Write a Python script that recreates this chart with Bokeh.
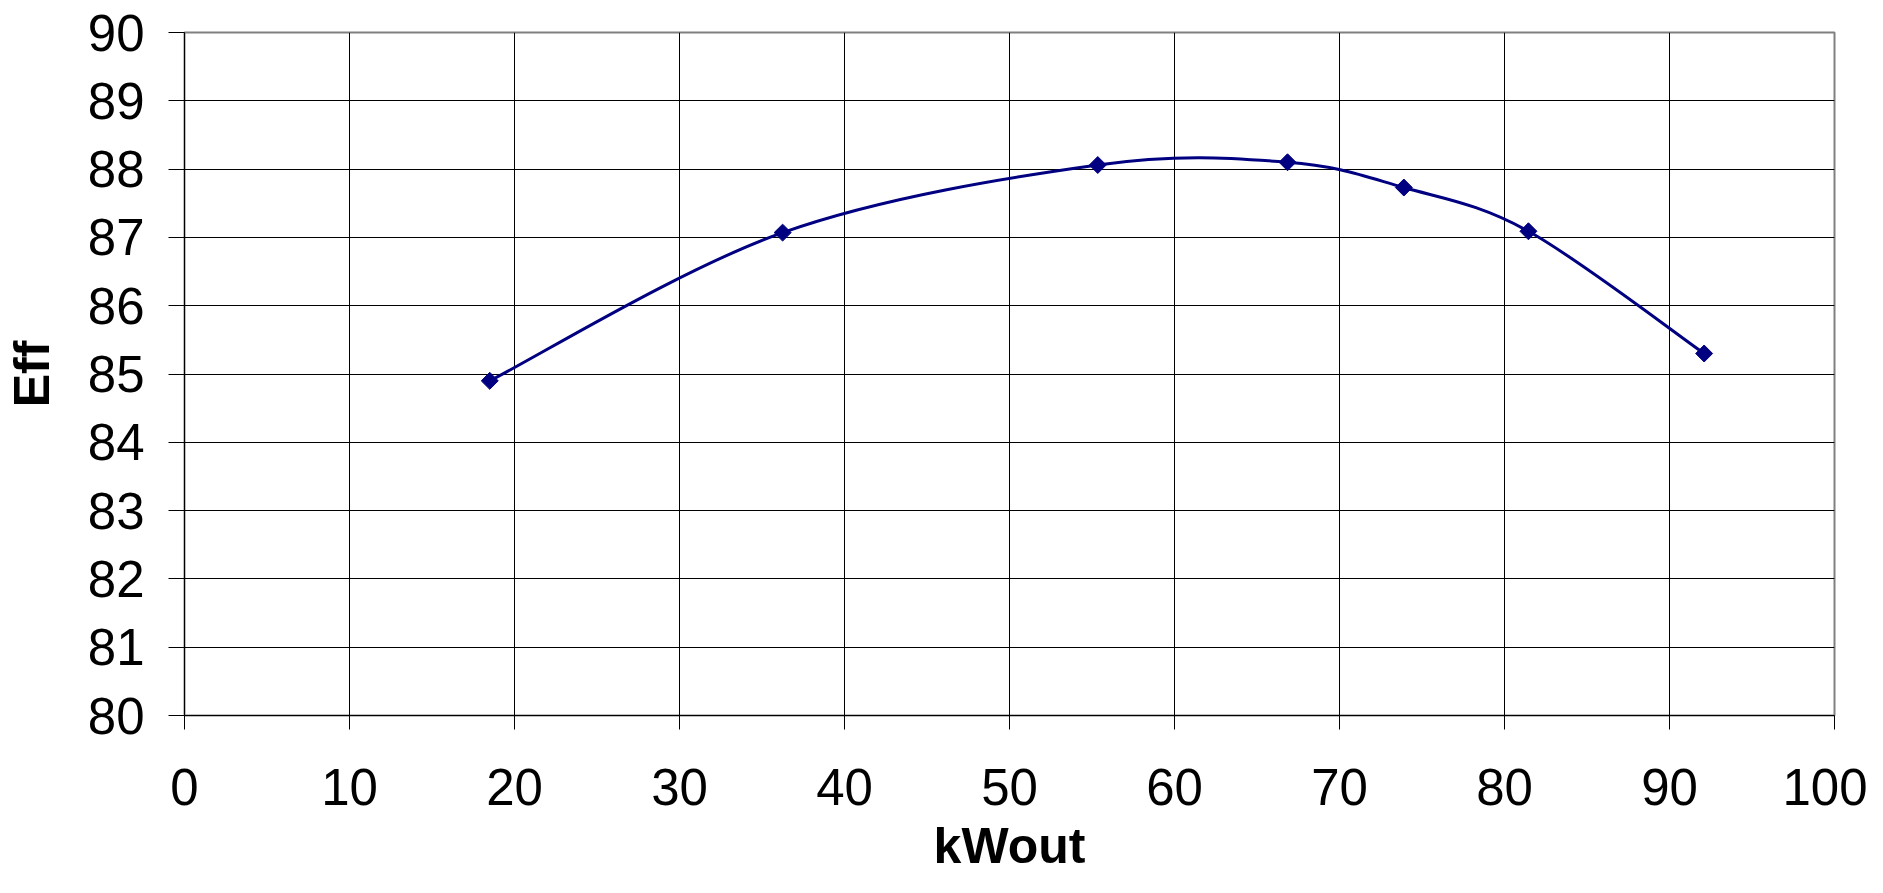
import math
from bokeh.plotting import figure
from bokeh.models import Range1d, FixedTicker, ColumnDataSource
from bokeh.embed import file_html
from bokeh.resources import INLINE

# ---- data ----
kw_out = [18.5, 36.25, 55.35, 66.85, 73.9, 81.45, 92.1]
eff = [84.9, 87.07, 88.06, 88.10, 87.73, 87.09, 85.30]
x_ticks = [0, 10, 20, 30, 40, 50, 60, 70, 80, 90, 100]
y_ticks = [80, 81, 82, 83, 84, 85, 86, 87, 88, 89, 90]
x_title = "kWout"
y_title = "Eff"

# ---- layout ----
W, H = 1867, 877
BL, BR, BT, BB = 182, 33, 32, 162

NAVY = "#000080"
FONT = "Liberation Sans"

p = figure(width=W, height=H, output_backend="svg", toolbar_location=None,
           x_range=Range1d(x_ticks[0], x_ticks[-1]),
           y_range=Range1d(y_ticks[0], y_ticks[-1]),
           min_border_left=BL, min_border_right=BR,
           min_border_top=BT, min_border_bottom=BB)
p.background_fill_color = "white"
p.border_fill_color = "white"
p.outline_line_color = "#808080"
p.outline_line_width = 2

for ax in (p.xaxis, p.yaxis):
    ax.axis_line_color = "black"
    ax.axis_line_width = 1
    ax.major_tick_line_color = "black"
    ax.major_tick_line_width = 1
    ax.major_tick_in = 0
    ax.minor_tick_line_color = None
    ax.major_label_text_font = FONT
    ax.major_label_text_font_size = "51px"
    ax.major_label_text_color = "black"
    ax.axis_label_text_font = FONT
    ax.axis_label_text_font_size = "50px"
    ax.axis_label_text_font_style = "bold"
    ax.axis_label_text_color = "black"

p.xaxis.ticker = FixedTicker(ticks=x_ticks)
p.yaxis.ticker = FixedTicker(ticks=y_ticks)
p.xaxis.major_tick_out = 14
p.yaxis.major_tick_out = 16
p.xaxis.major_label_standoff = 39
p.yaxis.major_label_standoff = 24
p.xaxis.axis_label = x_title
p.xaxis.axis_label_standoff = 10
p.yaxis.axis_label = y_title
p.yaxis.axis_label_standoff = 25

p.xgrid.ticker = FixedTicker(ticks=x_ticks)
p.ygrid.ticker = FixedTicker(ticks=y_ticks)
for g in (p.xgrid, p.ygrid):
    g.grid_line_color = "black"
    g.grid_line_width = 1

# ---- smoothed line (cubic Bezier segments through the data points) ----
n = len(kw_out)
x0s, y0s, x1s, y1s, cx0s, cy0s, cx1s, cy1s = ([] for _ in range(8))
for i in range(n - 1):
    pa = (kw_out[max(i - 1, 0)], eff[max(i - 1, 0)])
    pb = (kw_out[i], eff[i])
    pc = (kw_out[i + 1], eff[i + 1])
    pd = (kw_out[min(i + 2, n - 1)], eff[min(i + 2, n - 1)])
    x0s.append(pb[0]); y0s.append(pb[1])
    x1s.append(pc[0]); y1s.append(pc[1])
    cx0s.append(pb[0] + (pc[0] - pa[0]) / 6.0)
    cy0s.append(pb[1] + (pc[1] - pa[1]) / 6.0)
    cx1s.append(pc[0] - (pd[0] - pb[0]) / 6.0)
    cy1s.append(pc[1] - (pd[1] - pb[1]) / 6.0)

seg = ColumnDataSource(dict(x0=x0s, y0=y0s, x1=x1s, y1=y1s,
                            cx0=cx0s, cy0=cy0s, cx1=cx1s, cy1=cy1s))
p.bezier(x0="x0", y0="y0", x1="x1", y1="y1", cx0="cx0", cy0="cy0",
         cx1="cx1", cy1="cy1", source=seg, line_color=NAVY, line_width=3)

pts = ColumnDataSource(dict(x=kw_out, y=eff))
p.scatter(x="x", y="y", source=pts, marker="square", angle=math.pi / 4,
          size=12, fill_color=NAVY, line_color=NAVY)

open("out.html", "w").write(file_html(p, INLINE))
